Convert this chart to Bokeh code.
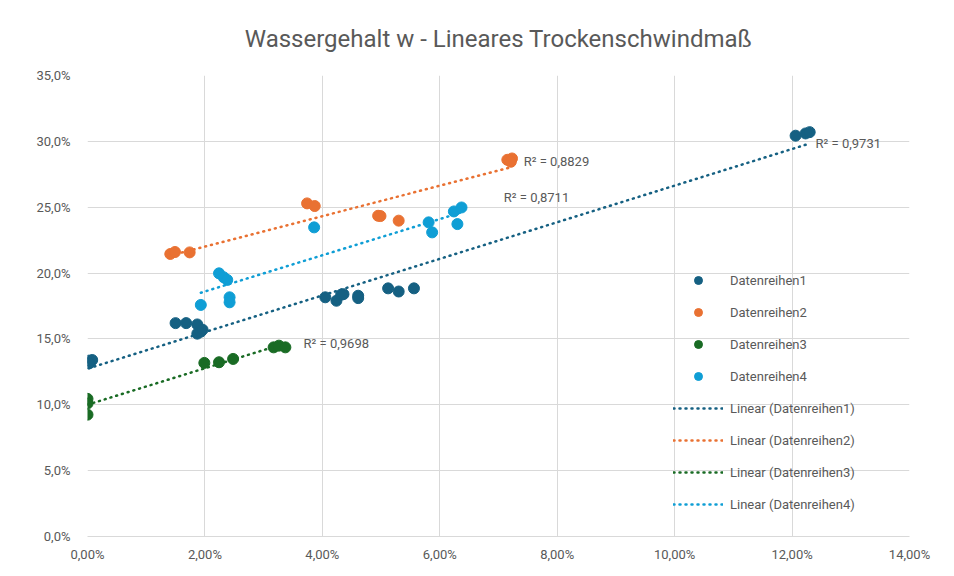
import numpy as np
from bokeh.plotting import figure
from bokeh.models import (Legend, LegendItem, Label, FixedTicker, Title)
from bokeh.embed import file_html
from bokeh.resources import INLINE

# ---------------- data (percent units) ----------------
s1_x = [0.02, 0.08, 0.03, 1.50, 1.68, 1.87, 1.87, 1.93, 1.96, 4.05, 4.24, 4.32, 4.36,
        4.61, 4.61, 5.12, 5.30, 5.56, 12.06, 12.23, 12.30]
s1_y = [13.35, 13.40, 13.15, 16.20, 16.20, 16.10, 15.40, 15.55, 15.70, 18.16, 17.90, 18.36, 18.40,
        18.28, 18.10, 18.84, 18.60, 18.84, 30.43, 30.60, 30.70]

s2_x = [1.41, 1.49, 1.74, 3.74, 3.87, 4.95, 4.99, 5.30, 7.15, 7.23, 7.21]
s2_y = [21.45, 21.60, 21.57, 25.29, 25.09, 24.35, 24.33, 23.98, 28.60, 28.70, 28.45]

s3_x = [0.00, 0.00, 0.00, 1.99, 2.24, 2.48, 3.17, 3.26, 3.37]
s3_y = [10.45, 10.10, 9.25, 13.18, 13.23, 13.48, 14.36, 14.49, 14.36]

s4_x = [1.93, 2.24, 2.32, 2.38, 2.42, 2.42, 3.86, 5.81, 5.87, 6.24, 6.37, 6.30]
s4_y = [17.58, 19.98, 19.68, 19.48, 18.16, 17.78, 23.47, 23.85, 23.09, 24.68, 24.98, 23.72]

series_names = ["Datenreihen1", "Datenreihen2", "Datenreihen3", "Datenreihen4"]
r2_texts = ["R\u00b2 = 0,9731", "R\u00b2 = 0,8829", "R\u00b2 = 0,9698", "R\u00b2 = 0,8711"]

x_ticks = [0, 2, 4, 6, 8, 10, 12, 14]
x_tick_labels = ["0,00%", "2,00%", "4,00%", "6,00%", "8,00%", "10,00%", "12,00%", "14,00%"]
y_ticks = [0, 5, 10, 15, 20, 25, 30, 35]
y_tick_labels = ["0,0%", "5,0%", "10,0%", "15,0%", "20,0%", "25,0%", "30,0%", "35,0%"]

title_text = "Wassergehalt w - Lineares Trockenschwindmaß"

# ---------------- styles ----------------
colors = ["#156082", "#E97132", "#196B24", "#0F9ED5"]
FONT = "Roboto"
GREY = "#595959"
GRID = "#D9D9D9"
# label offsets (data units) relative to trendline end
label_offsets = [(0.10, 0.0), (0.20, 0.4), (0.31, 0.0), (0.72, 1.1)]

p = figure(width=938, height=564, output_backend="svg", toolbar_location=None,
           x_range=(0, 14), y_range=(0, 35),
           min_border_left=87, min_border_right=29, min_border_top=75, min_border_bottom=28)
p.background_fill_color = "white"
p.border_fill_color = "white"
p.outline_line_color = None

p.title = Title(text=title_text, align="center", text_font=FONT, text_font_size="24px",
                text_font_style="normal", text_color=GREY, offset=0, standoff=45)

p.xaxis.ticker = FixedTicker(ticks=x_ticks)
p.yaxis.ticker = FixedTicker(ticks=y_ticks)
p.xaxis.major_label_overrides = {t: l for t, l in zip(x_ticks, x_tick_labels)}
p.yaxis.major_label_overrides = {t: l for t, l in zip(y_ticks, y_tick_labels)}
for ax in (p.xaxis, p.yaxis):
    ax.major_label_text_font = FONT
    ax.major_label_text_font_size = "13px"
    ax.major_label_text_color = GREY
    ax.major_tick_line_color = None
    ax.minor_tick_line_color = None
p.xaxis.axis_line_color = GRID
p.yaxis.axis_line_color = None
p.xaxis.major_label_standoff = 4
p.yaxis.major_label_standoff = 11
p.xgrid.grid_line_color = GRID
p.ygrid.grid_line_color = GRID

xs = [s1_x, s2_x, s3_x, s4_x]
ys = [s1_y, s2_y, s3_y, s4_y]

scatter_items = []
line_items = []
for i in range(4):
    x = np.array(xs[i]); y = np.array(ys[i])
    m, b = np.polyfit(x, y, 1)
    x0, x1 = x.min(), x.max()
    lr = p.line([x0, x1], [m * x0 + b, m * x1 + b], line_color=colors[i], line_width=2.5,
                line_dash="1 5", line_cap="round")
    line_items.append(LegendItem(label="Linear (%s)" % series_names[i], renderers=[lr]))
    sr = p.scatter(x, y, size=11, marker="circle", fill_color=colors[i], line_color=colors[i])
    scatter_items.append(LegendItem(label=series_names[i], renderers=[sr]))
    dx, dy = label_offsets[i]
    p.add_layout(Label(x=x1 + dx, y=m * x1 + b + dy, text=r2_texts[i], text_font=FONT,
                       text_font_size="13px", text_color=GREY, text_baseline="middle"))

legend = Legend(items=scatter_items + line_items, location=(586, 22),
                background_fill_alpha=0, border_line_alpha=0, padding=0, margin=0,
                spacing=12, label_height=20, glyph_height=20, glyph_width=50,
                label_standoff=7, label_text_font=FONT, label_text_font_size="13px",
                label_text_color=GREY)
p.add_layout(legend)

open("out.html", "w").write(file_html(p, INLINE))
